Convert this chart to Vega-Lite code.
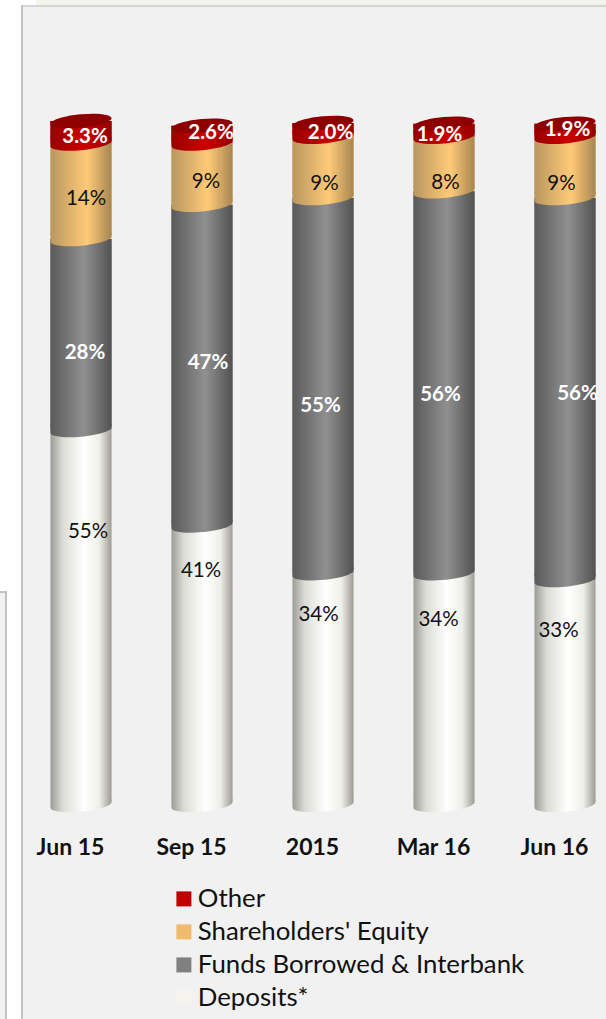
{
  "$schema": "https://vega.github.io/schema/vega-lite/v6.json",
  "width": 586,
  "height": 1015,
  "autosize": "none",
  "padding": {"left": 22, "top": 6, "right": 0, "bottom": 0},
  "background": "#ffffff",
  "view": {"fill": "#f1f1f1", "stroke": "#c2c2be", "strokeWidth": 2},
  "config": {"font": "Lato"},
  "data": {"values": [
    {"period": "Jun 15", "series": "Deposits*", "rank": 1, "share": 55, "label": "55%"},
    {"period": "Jun 15", "series": "Funds Borrowed & Interbank", "rank": 2, "share": 28, "label": "28%"},
    {"period": "Jun 15", "series": "Shareholders' Equity", "rank": 3, "share": 14, "label": "14%"},
    {"period": "Jun 15", "series": "Other", "rank": 4, "share": 3.3, "label": "3.3%"},
    {"period": "Sep 15", "series": "Deposits*", "rank": 1, "share": 41, "label": "41%"},
    {"period": "Sep 15", "series": "Funds Borrowed & Interbank", "rank": 2, "share": 47, "label": "47%"},
    {"period": "Sep 15", "series": "Shareholders' Equity", "rank": 3, "share": 9, "label": "9%"},
    {"period": "Sep 15", "series": "Other", "rank": 4, "share": 2.6, "label": "2.6%"},
    {"period": "2015", "series": "Deposits*", "rank": 1, "share": 34, "label": "34%"},
    {"period": "2015", "series": "Funds Borrowed & Interbank", "rank": 2, "share": 55, "label": "55%"},
    {"period": "2015", "series": "Shareholders' Equity", "rank": 3, "share": 9, "label": "9%"},
    {"period": "2015", "series": "Other", "rank": 4, "share": 2.0, "label": "2.0%"},
    {"period": "Mar 16", "series": "Deposits*", "rank": 1, "share": 34, "label": "34%"},
    {"period": "Mar 16", "series": "Funds Borrowed & Interbank", "rank": 2, "share": 56, "label": "56%"},
    {"period": "Mar 16", "series": "Shareholders' Equity", "rank": 3, "share": 8, "label": "8%"},
    {"period": "Mar 16", "series": "Other", "rank": 4, "share": 1.9, "label": "1.9%"},
    {"period": "Jun 16", "series": "Deposits*", "rank": 1, "share": 33, "label": "33%"},
    {"period": "Jun 16", "series": "Funds Borrowed & Interbank", "rank": 2, "share": 56, "label": "56%"},
    {"period": "Jun 16", "series": "Shareholders' Equity", "rank": 3, "share": 9, "label": "9%"},
    {"period": "Jun 16", "series": "Other", "rank": 4, "share": 1.9, "label": "1.9%"}
  ]},
  "transform": [
    {"stack": "share", "groupby": ["period"], "sort": [{"field": "rank", "order": "ascending"}], "as": ["base", "top"]},
    {"calculate": "(datum.base + datum.top) / 2", "as": "mid"}
  ],
  "encoding": {
    "x": {
      "field": "period",
      "type": "nominal",
      "sort": ["Jun 15", "Sep 15", "2015", "Mar 16", "Jun 16"],
      "scale": {"range": [-1.5, 603.5], "paddingInner": 0, "paddingOuter": 0},
      "axis": {"title": null, "orient": "bottom", "offset": -185, "domain": false, "ticks": false, "labelAngle": 0, "labelPadding": 0, "labelOffset": -10.5, "labelBaseline": "top", "labelFont": "Lato", "labelFontWeight": "bold", "labelFontSize": 23, "labelColor": "#111111", "grid": false}
    }
  },
  "layer": [
    {
      "description": "Neighbouring slide panel at the left edge",
      "data": {"values": [{}]},
      "mark": {"type": "rect", "fill": "#f1f1f1", "stroke": "#c2c2be", "strokeWidth": 2},
      "encoding": {"x": {"value": -40}, "x2": {"value": -16}, "y": {"value": 586}, "y2": {"value": 1040}}
    },
    {
      "description": "Pale strip above the panel",
      "data": {"values": [{}]},
      "mark": {"type": "rect", "fill": "#f4f3ee"},
      "encoding": {"x": {"value": 14}, "x2": {"value": 590}, "y": {"value": -6}, "y2": {"value": -1}}
    },
    {
      "description": "Lighter top edge of the panel",
      "data": {"values": [{}]},
      "mark": {"type": "rect", "fill": "#d6d6d0"},
      "encoding": {"x": {"value": 1}, "x2": {"value": 590}, "y": {"value": -1}, "y2": {"value": 1}}
    },
    {
      "description": "Flat stack carrying the legend colours",
      "mark": {"type": "bar", "width": {"band": 0.505}},
      "encoding": {
        "y": {"field": "top", "type": "quantitative", "scale": {"domain": [-31.67, 117.16], "nice": false, "zero": false}, "axis": null},
        "y2": {"field": "base"},
        "color": {
          "field": "series",
          "type": "nominal",
          "sort": null,
          "scale": {"domain": ["Other", "Shareholders' Equity", "Funds Borrowed & Interbank", "Deposits*"], "range": ["#c00000", "#f0bb6c", "#808080", "#f5f4ef"]},
          "legend": {"orient": "none", "legendX": 149, "legendY": 880, "title": null, "symbolType": "square", "symbolSize": 225, "symbolStrokeWidth": 0, "symbolOpacity": 1, "labelFont": "Lato", "labelFontSize": 25.8, "labelColor": "#111111", "labelOffset": 1, "rowPadding": 6, "labelLimit": 400}
        }
      }
    },
    {
      "transform": [{"filter": "datum.rank == 1"}],
      "mark": {"type": "bar", "width": {"band": 0.505}, "y2Offset": -4, "fill": {"gradient": "linear", "x1": 0, "x2": 1, "y1": 0, "y2": 0, "stops": [{"offset": 0, "color": "#9c9c96"}, {"offset": 0.2, "color": "#dcdcd6"}, {"offset": 0.55, "color": "#ffffff"}, {"offset": 0.8, "color": "#efefe9"}, {"offset": 1, "color": "#9c9c94"}]}},
      "encoding": {"y": {"field": "top", "type": "quantitative"}, "y2": {"field": "base"}}
    },
    {
      "transform": [{"filter": "datum.rank == 1"}],
      "mark": {"type": "point", "filled": true, "opacity": 1, "size": 3721, "shape": "M-1,-0.2 L-1,0.09 C-1,0.21 -0.552,0.27 0,0.22 C0.552,0.17 1,0.031 1,-0.09 L1,-0.2 Z", "fill": {"gradient": "linear", "x1": 0, "x2": 1, "y1": 0, "y2": 0, "stops": [{"offset": 0, "color": "#9c9c96"}, {"offset": 0.2, "color": "#dcdcd6"}, {"offset": 0.55, "color": "#ffffff"}, {"offset": 0.8, "color": "#efefe9"}, {"offset": 1, "color": "#9c9c94"}]}},
      "encoding": {"y": {"field": "base", "type": "quantitative"}}
    },
    {
      "transform": [{"filter": "datum.rank == 2"}],
      "mark": {"type": "bar", "width": {"band": 0.505}, "y2Offset": -4, "fill": {"gradient": "linear", "x1": 0, "x2": 1, "y1": 0, "y2": 0, "stops": [{"offset": 0, "color": "#5a5a5a"}, {"offset": 0.55, "color": "#909090"}, {"offset": 1, "color": "#525252"}]}},
      "encoding": {"y": {"field": "top", "type": "quantitative"}, "y2": {"field": "base"}}
    },
    {
      "transform": [{"filter": "datum.rank == 2"}],
      "mark": {"type": "point", "filled": true, "opacity": 1, "size": 3721, "shape": "M-1,-0.2 L-1,0.09 C-1,0.21 -0.552,0.27 0,0.22 C0.552,0.17 1,0.031 1,-0.09 L1,-0.2 Z", "fill": {"gradient": "linear", "x1": 0, "x2": 1, "y1": 0, "y2": 0, "stops": [{"offset": 0, "color": "#5a5a5a"}, {"offset": 0.55, "color": "#909090"}, {"offset": 1, "color": "#525252"}]}},
      "encoding": {"y": {"field": "base", "type": "quantitative"}}
    },
    {
      "transform": [{"filter": "datum.rank == 3"}],
      "mark": {"type": "bar", "width": {"band": 0.505}, "y2Offset": -4, "fill": {"gradient": "linear", "x1": 0, "x2": 1, "y1": 0, "y2": 0, "stops": [{"offset": 0, "color": "#b8975f"}, {"offset": 0.6, "color": "#ffca78"}, {"offset": 1, "color": "#a68650"}]}},
      "encoding": {"y": {"field": "top", "type": "quantitative"}, "y2": {"field": "base"}}
    },
    {
      "transform": [{"filter": "datum.rank == 3"}],
      "mark": {"type": "point", "filled": true, "opacity": 1, "size": 3721, "shape": "M-1,-0.2 L-1,0.09 C-1,0.21 -0.552,0.27 0,0.22 C0.552,0.17 1,0.031 1,-0.09 L1,-0.2 Z", "fill": {"gradient": "linear", "x1": 0, "x2": 1, "y1": 0, "y2": 0, "stops": [{"offset": 0, "color": "#b8975f"}, {"offset": 0.6, "color": "#ffca78"}, {"offset": 1, "color": "#a68650"}]}},
      "encoding": {"y": {"field": "base", "type": "quantitative"}}
    },
    {
      "transform": [{"filter": "datum.rank == 4"}],
      "mark": {"type": "bar", "width": {"band": 0.505}, "y2Offset": -4, "fill": {"gradient": "linear", "x1": 0, "x2": 1, "y1": 0, "y2": 0, "stops": [{"offset": 0, "color": "#980000"}, {"offset": 0.55, "color": "#cc0000"}, {"offset": 1, "color": "#940000"}]}},
      "encoding": {"y": {"field": "top", "type": "quantitative"}, "y2": {"field": "base"}}
    },
    {
      "transform": [{"filter": "datum.rank == 4"}],
      "mark": {"type": "point", "filled": true, "opacity": 1, "size": 3721, "shape": "M-1,-0.2 L-1,0.09 C-1,0.21 -0.552,0.27 0,0.22 C0.552,0.17 1,0.031 1,-0.09 L1,-0.2 Z", "fill": {"gradient": "linear", "x1": 0, "x2": 1, "y1": 0, "y2": 0, "stops": [{"offset": 0, "color": "#980000"}, {"offset": 0.55, "color": "#cc0000"}, {"offset": 1, "color": "#940000"}]}},
      "encoding": {"y": {"field": "base", "type": "quantitative"}}
    },
    {
      "description": "Top face of each cylinder",
      "transform": [{"filter": "datum.rank == 4"}],
      "mark": {"type": "point", "filled": true, "opacity": 1, "size": 3721, "shape": "M-1,0.09 C-1,0.21 -0.552,0.27 0,0.22 C0.552,0.17 1,0.031 1,-0.09 C1,-0.21 0.552,-0.27 0,-0.22 C-0.552,-0.17 -1,-0.031 -1,0.09 Z", "fill": "#8e0000"},
      "encoding": {"y": {"field": "top", "type": "quantitative"}}
    },
    {"transform": [{"filter": "datum.period == 'Jun 15' && datum.rank == 1"}], "mark": {"type": "text", "font": "Lato", "fontSize": 20.5, "color": "#111111", "dx": 7, "dy": -85}, "encoding": {"y": {"field": "mid", "type": "quantitative"}, "text": {"field": "label"}}},
    {"transform": [{"filter": "datum.period == 'Jun 15' && datum.rank == 2"}], "mark": {"type": "text", "font": "Lato", "fontSize": 20.5, "fontWeight": "bold", "color": "#ffffff", "dx": 4, "dy": 19}, "encoding": {"y": {"field": "mid", "type": "quantitative"}, "text": {"field": "label"}}},
    {"transform": [{"filter": "datum.period == 'Jun 15' && datum.rank == 3"}], "mark": {"type": "text", "font": "Lato", "fontSize": 20.5, "color": "#111111", "dx": 5, "dy": 8}, "encoding": {"y": {"field": "mid", "type": "quantitative"}, "text": {"field": "label"}}},
    {"transform": [{"filter": "datum.period == 'Jun 15' && datum.rank == 4"}], "mark": {"type": "text", "font": "Lato", "fontSize": 20.5, "fontWeight": "bold", "color": "#ffffff", "dx": 4, "dy": 5}, "encoding": {"y": {"field": "mid", "type": "quantitative"}, "text": {"field": "label"}}},
    {"transform": [{"filter": "datum.period == 'Sep 15' && datum.rank == 1"}], "mark": {"type": "text", "font": "Lato", "fontSize": 20.5, "color": "#111111", "dx": -1, "dy": -94}, "encoding": {"y": {"field": "mid", "type": "quantitative"}, "text": {"field": "label"}}},
    {"transform": [{"filter": "datum.period == 'Sep 15' && datum.rank == 2"}], "mark": {"type": "text", "font": "Lato", "fontSize": 20.5, "fontWeight": "bold", "color": "#ffffff", "dx": 6, "dy": -2}, "encoding": {"y": {"field": "mid", "type": "quantitative"}, "text": {"field": "label"}}},
    {"transform": [{"filter": "datum.period == 'Sep 15' && datum.rank == 3"}], "mark": {"type": "text", "font": "Lato", "fontSize": 20.5, "color": "#111111", "dx": 4, "dy": 8}, "encoding": {"y": {"field": "mid", "type": "quantitative"}, "text": {"field": "label"}}},
    {"transform": [{"filter": "datum.period == 'Sep 15' && datum.rank == 4"}], "mark": {"type": "text", "font": "Lato", "fontSize": 20.5, "fontWeight": "bold", "color": "#ffffff", "dx": 9, "dy": -2}, "encoding": {"y": {"field": "mid", "type": "quantitative"}, "text": {"field": "label"}}},
    {"transform": [{"filter": "datum.period == '2015' && datum.rank == 1"}], "mark": {"type": "text", "font": "Lato", "fontSize": 20.5, "color": "#111111", "dx": -4.5, "dy": -74}, "encoding": {"y": {"field": "mid", "type": "quantitative"}, "text": {"field": "label"}}},
    {"transform": [{"filter": "datum.period == '2015' && datum.rank == 2"}], "mark": {"type": "text", "font": "Lato", "fontSize": 20.5, "fontWeight": "bold", "color": "#ffffff", "dx": -2.5, "dy": 20}, "encoding": {"y": {"field": "mid", "type": "quantitative"}, "text": {"field": "label"}}},
    {"transform": [{"filter": "datum.period == '2015' && datum.rank == 3"}], "mark": {"type": "text", "font": "Lato", "fontSize": 20.5, "color": "#111111", "dx": 1.5, "dy": 17}, "encoding": {"y": {"field": "mid", "type": "quantitative"}, "text": {"field": "label"}}},
    {"transform": [{"filter": "datum.period == '2015' && datum.rank == 4"}], "mark": {"type": "text", "font": "Lato", "fontSize": 20.5, "fontWeight": "bold", "color": "#ffffff", "dx": 7.5, "dy": 3}, "encoding": {"y": {"field": "mid", "type": "quantitative"}, "text": {"field": "label"}}},
    {"transform": [{"filter": "datum.period == 'Mar 16' && datum.rank == 1"}], "mark": {"type": "text", "font": "Lato", "fontSize": 20.5, "color": "#111111", "dx": -5.5, "dy": -69}, "encoding": {"y": {"field": "mid", "type": "quantitative"}, "text": {"field": "label"}}},
    {"transform": [{"filter": "datum.period == 'Mar 16' && datum.rank == 2"}], "mark": {"type": "text", "font": "Lato", "fontSize": 20.5, "fontWeight": "bold", "color": "#ffffff", "dx": -3.5, "dy": 13}, "encoding": {"y": {"field": "mid", "type": "quantitative"}, "text": {"field": "label"}}},
    {"transform": [{"filter": "datum.period == 'Mar 16' && datum.rank == 3"}], "mark": {"type": "text", "font": "Lato", "fontSize": 20.5, "color": "#111111", "dx": 1.5, "dy": 19}, "encoding": {"y": {"field": "mid", "type": "quantitative"}, "text": {"field": "label"}}},
    {"transform": [{"filter": "datum.period == 'Mar 16' && datum.rank == 4"}], "mark": {"type": "text", "font": "Lato", "fontSize": 20.5, "fontWeight": "bold", "color": "#ffffff", "dx": -4.5, "dy": 5}, "encoding": {"y": {"field": "mid", "type": "quantitative"}, "text": {"field": "label"}}},
    {"transform": [{"filter": "datum.period == 'Jun 16' && datum.rank == 1"}], "mark": {"type": "text", "font": "Lato", "fontSize": 20.5, "color": "#111111", "dx": -6.5, "dy": -61.5}, "encoding": {"y": {"field": "mid", "type": "quantitative"}, "text": {"field": "label"}}},
    {"transform": [{"filter": "datum.period == 'Jun 16' && datum.rank == 2"}], "mark": {"type": "text", "font": "Lato", "fontSize": 20.5, "fontWeight": "bold", "color": "#ffffff", "dx": 12.5, "dy": 5}, "encoding": {"y": {"field": "mid", "type": "quantitative"}, "text": {"field": "label"}}},
    {"transform": [{"filter": "datum.period == 'Jun 16' && datum.rank == 3"}], "mark": {"type": "text", "font": "Lato", "fontSize": 20.5, "color": "#111111", "dx": -3.5, "dy": 17}, "encoding": {"y": {"field": "mid", "type": "quantitative"}, "text": {"field": "label"}}},
    {"transform": [{"filter": "datum.period == 'Jun 16' && datum.rank == 4"}], "mark": {"type": "text", "font": "Lato", "fontSize": 20.5, "fontWeight": "bold", "color": "#ffffff", "dx": 2.5, "dy": 0}, "encoding": {"y": {"field": "mid", "type": "quantitative"}, "text": {"field": "label"}}}
  ]
}
